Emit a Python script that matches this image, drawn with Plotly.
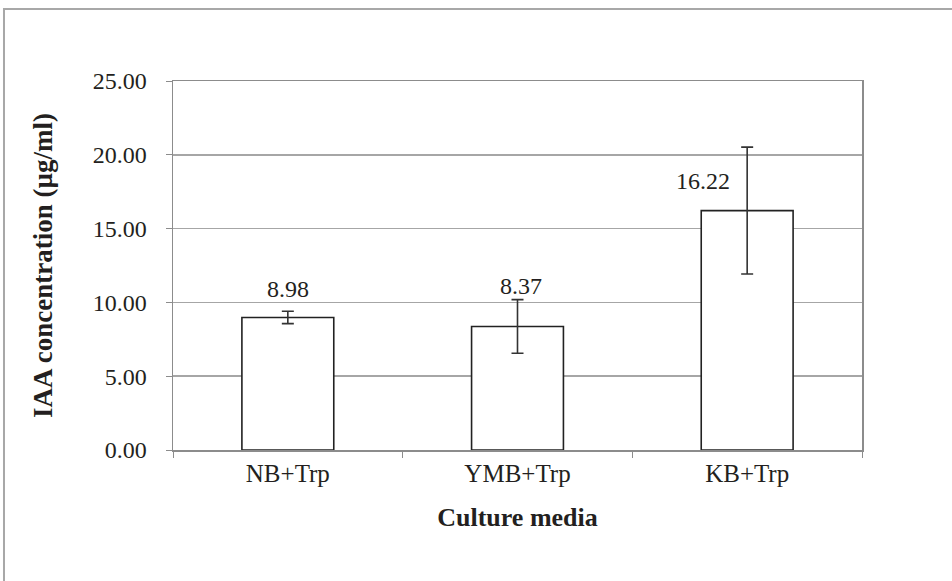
import plotly.graph_objects as go

categories = ["NB+Trp", "YMB+Trp", "KB+Trp"]
values = [8.98, 8.37, 16.22]
errors = [0.42, 1.82, 4.30]
value_labels = ["8.98", "8.37", "16.22"]
label_xshift = [0, 3, -44]
label_yshift = [28, 40, 30]

FONT = "Liberation Serif"
TXT = "#231f20"

fig = go.Figure()
fig.add_trace(go.Bar(
    x=categories, y=values,
    marker=dict(color="white", line=dict(color="#222222", width=1.6)),
    error_y=dict(type="data", array=errors, visible=True, color="#333333",
                 thickness=1.6, width=6),
    width=0.4,
    showlegend=False,
))

for c, v, t, xs, ys in zip(categories, values, value_labels, label_xshift, label_yshift):
    fig.add_annotation(x=c, y=v, text=t, showarrow=False, xshift=xs, yshift=ys,
                       font=dict(family=FONT, size=24, color=TXT))

# outer frame
fig.add_shape(type="rect", xref="paper", yref="paper",
              x0=-0.2453, x1=1.3, y0=-0.45, y1=1.195,
              line=dict(color="#a8a8a8", width=2), fillcolor="rgba(0,0,0,0)")

fig.update_layout(
    width=952, height=581,
    margin=dict(l=173, r=90, t=81, b=131),
    paper_bgcolor="white", plot_bgcolor="white",
    font=dict(family=FONT, size=24, color=TXT),
    xaxis=dict(
        showline=True, linecolor="#8c8c8c", linewidth=1.5, mirror=True,
        ticks="outside", tickson="boundaries", ticklen=6, tickcolor="#8c8c8c",
        tickfont=dict(family=FONT, size=25, color=TXT),
        title=dict(text="<b>Culture media</b>", standoff=22,
                   font=dict(family=FONT, size=26, color=TXT)),
        showgrid=False,
    ),
    yaxis=dict(
        range=[0, 25], dtick=5, tickformat=".2f",
        showline=True, linecolor="#8c8c8c", linewidth=1.5, mirror=True,
        ticks="outside", ticklen=6, tickcolor="#8c8c8c",
        ticklabelstandoff=14,
        showgrid=True, gridcolor="#a6a6a6", gridwidth=1.5,
        tickfont=dict(family=FONT, size=24, color=TXT),
        title=dict(text="<b>IAA concentration (µg/ml)</b>", standoff=32,
                   font=dict(family=FONT, size=27, color=TXT)),
    ),
)

fig.write_html("out.html",
               config={"displayModeBar": False, "staticPlot": True},
               post_script="document.body.style.margin='0';document.body.style.overflow='hidden';")
